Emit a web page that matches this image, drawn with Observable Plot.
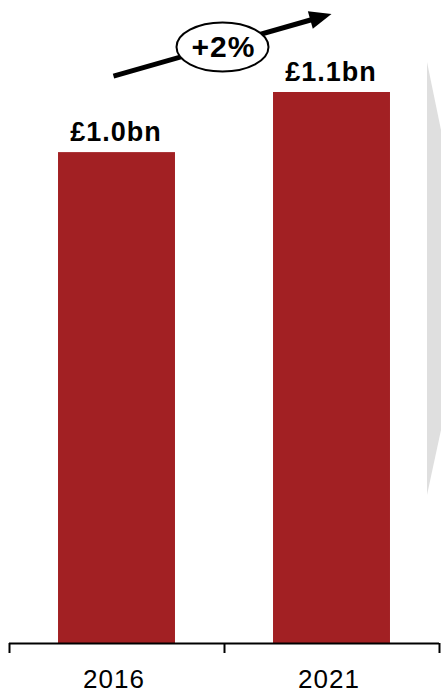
<!DOCTYPE html>
<html>
<head>
<meta charset="utf-8">
<script src="https://cdn.jsdelivr.net/npm/d3@7"></script>
<script src="https://cdn.jsdelivr.net/npm/@observablehq/plot@0.6"></script>
<style>
  html, body { margin: 0; padding: 0; background: #fff; }
  #chart svg text { letter-spacing: 1px; }
  #chart svg [aria-label^="x-axis"] path,
  #chart svg [aria-label^="x-axis"] line { stroke-width: 2px; stroke: #000; }
</style>
</head>
<body>
<div id="chart"></div>
<script>
// Market size, £bn
const years = ["2016", "2021"];
const values = [0.98, 1.10];

// Band edges for the axis ticks (in category-index units)
const tickEdges = [-0.5, 0.5, 1.5];

const barColor = "#a22023";
const fontFamily = "'Liberation Sans', Arial, Helvetica, sans-serif";

const data = years.map((year, i) => ({i, year, value: values[i]}));
const money = v => `£${d3.format(".1f")(v)}bn`;

// Compound annual growth between the two years
const span = +years[1] - +years[0];
const cagr = (values[1] / values[0]) ** (1 / span) - 1;
const growthLabel = d3.format("+.0%")(cagr);

const halfBar = 0.272;

// Light grey chevron edge on the right-hand side
function sidePanel(index, scales, values, {width}) {
  const g = d3.create("svg:g");
  const x0 = width - 14;
  g.append("path")
    .attr("d", `M${x0},62L${width},130L${width},430L${x0},495Z`)
    .attr("fill", "#dfdfdf");
  return g.node();
}

// Growth arrow linking the two bar tops, lifted above the labels
function growthArrow(index, {x, y}) {
  const lift = 76;
  const p0 = [x(0) - 3, y(values[0]) - lift];
  const p1 = [x(1), y(values[1]) - lift - 2];
  const ang = Math.atan2(p1[1] - p0[1], p1[0] - p0[0]);
  const headLen = 22, headHalf = 9;
  const ux = Math.cos(ang), uy = Math.sin(ang);
  const base = [p1[0] - ux * headLen, p1[1] - uy * headLen];
  const g = d3.create("svg:g");
  g.append("line")
    .attr("x1", p0[0]).attr("y1", p0[1])
    .attr("x2", base[0] + ux * 2).attr("y2", base[1] + uy * 2)
    .attr("stroke", "#000").attr("stroke-width", 5);
  g.append("path")
    .attr("d", `M${p1[0]},${p1[1]}L${base[0] - uy * headHalf},${base[1] + ux * headHalf}L${base[0] + uy * headHalf},${base[1] - ux * headHalf}Z`)
    .attr("fill", "#000");
  const cx = (p0[0] + p1[0]) / 2, cy = (p0[1] + p1[1]) / 2 + 2;
  g.append("ellipse")
    .attr("cx", cx).attr("cy", cy).attr("rx", 46).attr("ry", 24.5)
    .attr("fill", "#fff").attr("stroke", "#000").attr("stroke-width", 2);
  g.append("text")
    .attr("x", cx + 1).attr("y", cy + 10)
    .attr("text-anchor", "middle")
    .attr("font-family", fontFamily)
    .attr("font-weight", "bold")
    .attr("font-size", 30)
    .attr("fill", "#000")
    .text(growthLabel);
  return g.node();
}

const chart = Plot.plot({
  width: 441,
  height: 694,
  marginTop: 92,
  marginBottom: 51,
  marginLeft: 9,
  marginRight: 2,
  style: {fontFamily, background: "#fff", color: "#000"},
  x: {
    domain: [-0.5, 1.5],
    ticks: tickEdges,
    tickSize: 10,
    tickFormat: () => "",
    label: null
  },
  y: {domain: [0, 1.1], axis: null},
  marks: [
    sidePanel,
    Plot.rectY(data, {
      x1: d => d.i - halfBar,
      x2: d => d.i + halfBar,
      y1: 0,
      y2: "value",
      fill: barColor
    }),
    Plot.ruleY([0], {stroke: "#000", strokeWidth: 2}),
    Plot.text(data, {
      x: "i",
      y: "value",
      text: d => money(d.value),
      dx: -1,
      dy: -12,
      lineAnchor: "bottom",
      fontSize: 27,
      fontWeight: "bold",
      fill: "#000"
    }),
    Plot.text(data, {
      x: "i",
      frameAnchor: "bottom",
      text: "year",
      dx: -3,
      dy: 44,
      lineAnchor: "bottom",
      fontSize: 26,
      fill: "#000"
    }),
    growthArrow
  ]
});

document.getElementById("chart").appendChild(chart);
</script>
</body>
</html>
